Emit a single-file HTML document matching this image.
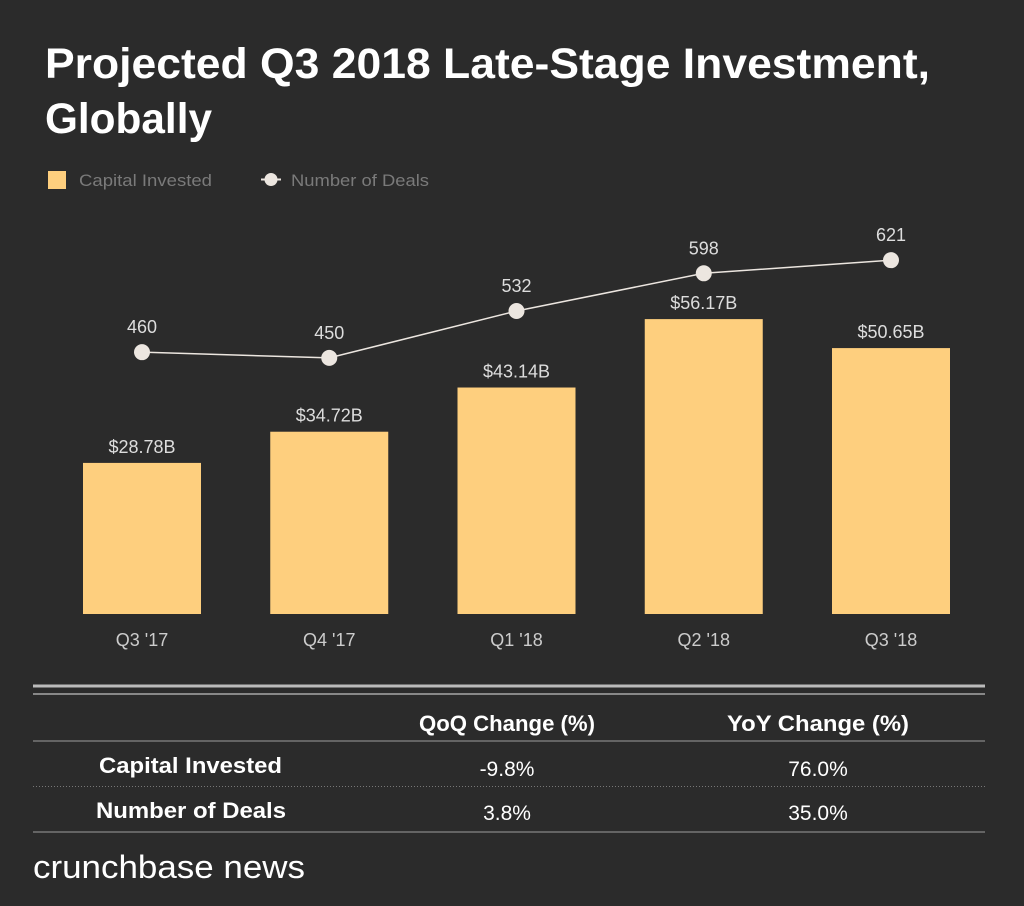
<!DOCTYPE html>
<html><head><meta charset="utf-8"><style>
body{margin:0;background:#2b2b2b;width:1024px;height:906px;overflow:hidden;font-family:"Liberation Sans",sans-serif;}
</style></head><body>
<svg width="1024" height="906" style="display:block">
<rect width="1024" height="906" fill="#2b2b2b"/>
<text x="45" y="78" fill="#fff" font-size="43" font-weight="bold" textLength="885" lengthAdjust="spacingAndGlyphs">Projected Q3 2018 Late-Stage Investment,</text>
<text x="45" y="133" fill="#fff" font-size="43" font-weight="bold" textLength="167" lengthAdjust="spacingAndGlyphs">Globally</text>
<g>
<rect x="48" y="171" width="18" height="18" fill="#fecf7e"/>
<text x="79" y="186" fill="#7a7a7a" font-size="17" textLength="133" lengthAdjust="spacingAndGlyphs">Capital Invested</text>
<line x1="261" y1="179.5" x2="281" y2="179.5" stroke="#ece6e0" stroke-width="2"/>
<circle cx="271" cy="179.5" r="6.5" fill="#ece6e0"/>
<text x="291" y="186" fill="#7a7a7a" font-size="17" textLength="138" lengthAdjust="spacingAndGlyphs">Number of Deals</text>
</g>
<g id="plot"></g>
<g>
<line x1="33" y1="686" x2="985" y2="686" stroke="#bbb" stroke-width="3"/>
<line x1="33" y1="694" x2="985" y2="694" stroke="#888" stroke-width="2"/>
<text x="419" y="731" fill="#fff" font-size="22" font-weight="bold" textLength="176" lengthAdjust="spacingAndGlyphs">QoQ Change (%)</text>
<text x="727" y="731" fill="#fff" font-size="22" font-weight="bold" textLength="182" lengthAdjust="spacingAndGlyphs">YoY Change (%)</text>
<line x1="33" y1="741" x2="985" y2="741" stroke="#777" stroke-width="1.5"/>
<text x="99" y="773" fill="#fff" font-size="22" font-weight="bold" textLength="183" lengthAdjust="spacingAndGlyphs">Capital Invested</text>
<text x="507" y="776" fill="#fff" font-size="21" text-anchor="middle">-9.8%</text>
<text x="818" y="776" fill="#fff" font-size="21" text-anchor="middle">76.0%</text>
<line x1="33" y1="786.5" x2="985" y2="786.5" stroke="#777" stroke-width="1" stroke-dasharray="1,2"/>
<text x="96" y="818" fill="#fff" font-size="22" font-weight="bold" textLength="190" lengthAdjust="spacingAndGlyphs">Number of Deals</text>
<text x="507" y="820" fill="#fff" font-size="21" text-anchor="middle">3.8%</text>
<text x="818" y="820" fill="#fff" font-size="21" text-anchor="middle">35.0%</text>
<line x1="33" y1="832" x2="985" y2="832" stroke="#777" stroke-width="1.5"/>
</g>
<text x="33" y="878" fill="#fff" font-size="32" textLength="272" lengthAdjust="spacingAndGlyphs">crunchbase news</text>
</svg>
<script>
const categories=["Q3 '17","Q4 '17","Q1 '18","Q2 '18","Q3 '18"];
const capital=[28.78,34.72,43.14,56.17,50.65];
const capitalLabels=["$28.78B","$34.72B","$43.14B","$56.17B","$50.65B"];
const deals=[460,450,532,598,621];
const NS="http://www.w3.org/2000/svg";
const g=document.getElementById('plot');
const xC=i=>142+i*187.25;
const yBar=v=>614-v*5.25;
const yLine=v=>615-v*0.5714;
function mk(t,a){const e=document.createElementNS(NS,t);for(const k in a)e.setAttribute(k,a[k]);g.appendChild(e);return e;}
categories.forEach((c,i)=>{
 const r=mk('rect',{x:xC(i)-59,y:yBar(capital[i]),width:118,height:614-yBar(capital[i]),fill:'#fecf7e'});
 
 
 const t=mk('text',{x:xC(i),y:yBar(capital[i])-10,fill:'#ddd','font-size':18,'text-anchor':'middle'});t.textContent=capitalLabels[i];
 
 
 const x=mk('text',{x:xC(i),y:646,fill:'#ccc','font-size':18,'text-anchor':'middle'});x.textContent=c;
 
 
});
const pl=mk('polyline',{points:deals.map((d,i)=>xC(i)+','+yLine(d)).join(' '),fill:'none',stroke:'#ece6e0','stroke-width':1.5});


deals.forEach((d,i)=>{
 const c=mk('circle',{cx:xC(i),cy:yLine(d),r:8,fill:'#ece6e0'});
 
 
 const t=mk('text',{x:xC(i),y:yLine(d)-19,fill:'#ddd','font-size':18,'text-anchor':'middle'});t.textContent=d;
 
 
});
</script>
</body></html>
